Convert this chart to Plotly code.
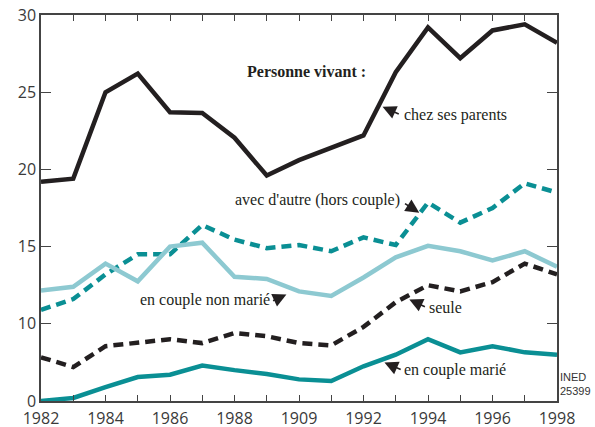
import plotly.graph_objects as go

years = list(range(1982, 1999))
parents = [19.2, 19.4, 25.0, 26.2, 23.7, 23.65, 22.05, 19.6, 20.6, 21.4, 22.2,
           26.3, 29.2, 27.2, 29.0, 29.4, 28.2]
autres = [10.9, 11.6, 13.2, 14.5, 14.5, 16.4, 15.45, 14.9, 15.1, 14.7, 15.6,
          15.1, 17.85, 16.55, 17.5, 19.1, 18.5]
non_marie = [12.15, 12.4, 13.9, 12.75, 15.0, 15.25, 13.05, 12.9, 12.1, 11.8, 13.0,
             14.3, 15.05, 14.7, 14.1, 14.7, 13.7]
seule = [7.83, 7.2, 8.55, 8.8, 9.0, 8.75, 9.4, 9.2, 8.75, 8.6, 9.8,
         11.4, 12.5, 12.1, 12.7, 13.9, 13.2]
marie = [5.0, 5.2, 5.9, 6.55, 6.7, 7.3, 7.0, 6.75, 6.4, 6.3, 7.25,
         8.0, 9.0, 8.15, 8.55, 8.15, 8.0]

x_ticktext = ['1982', '', '1984', '', '1986', '', '1988', '', '1909', '',
              '1992', '', '1994', '', '1996', '', '1998']
y_tickvals = [5, 10, 15, 20, 25, 30]
y_ticktext = ['0', '10', '15', '20', '25', '30']

BLACK = '#231f20'
TEAL = '#0a8f94'
LIGHT = '#8dc9d1'
SERIF = 'Liberation Serif, DejaVu Serif, Times New Roman, serif'

fig = go.Figure()
series = [
    (parents, BLACK, 'solid'),
    (autres, TEAL, 'dash'),
    (non_marie, LIGHT, 'solid'),
    (seule, BLACK, 'dash'),
    (marie, TEAL, 'solid'),
]
for vals, color, dash in series:
    fig.add_trace(go.Scatter(
        x=years, y=vals, mode='lines',
        line=dict(color=color, width=4.5, dash='10px,6px' if dash == 'dash' else 'solid'),
        showlegend=False, hoverinfo='skip', cliponaxis=False,
    ))

serif = dict(family=SERIF, size=16, color=BLACK)

# (label, tip x, tip y, tail x, tail y, text x, text y, anchor)
notes = [
    ('chez ses parents', 1992.59, 24.05, 1993.14, 23.54, 1993.2, 23.54, 'left'),
    ("avec d'autre (hors couple)", 1993.73, 17.2, 1993.24, 17.85, 1993.2, 18.04, 'right'),
    ('en couple non marié', 1989.61, 11.9, 1989.15, 11.45, 1989.15, 11.51, 'right'),
    ('seule', 1993.42, 11.58, 1993.95, 11.06, 1993.98, 11.06, 'left'),
    ('en couple marié', 1992.65, 7.5, 1993.2, 6.99, 1993.2, 6.99, 'left'),
]
for label, tx, ty, ax, ay, lx, ly, anchor in notes:
    fig.add_annotation(
        x=tx, y=ty, ax=ax, ay=ay, xref='x', yref='y', axref='x', ayref='y',
        text='', showarrow=True, arrowhead=2, arrowsize=1.7, arrowwidth=1.6,
        arrowcolor=BLACK,
    )
    fig.add_annotation(
        x=lx, y=ly, xref='x', yref='y', text=label, showarrow=False,
        xanchor=anchor, yanchor='middle', font=serif,
    )

fig.add_annotation(
    x=1990.23, y=26.32, xref='x', yref='y', text='<b>Personne vivant :</b>',
    showarrow=False, font=dict(family=SERIF, size=16, color=BLACK),
)
fig.add_annotation(
    x=1, y=0, xref='paper', yref='paper', xanchor='left', yanchor='bottom',
    xshift=1, yshift=2, text='INED<br>25399', showarrow=False, align='left',
    font=dict(family='Liberation Sans Narrow, Liberation Sans', size=11, color='#333'),
)

axis_font = dict(family='Open Sans', size=16, color='#3a3a3a')
fig.update_layout(
    width=595, height=427,
    margin=dict(l=41, r=38, t=15, b=26, autoexpand=False),
    paper_bgcolor='white', plot_bgcolor='white',
    xaxis=dict(
        range=[1982, 1998], tickvals=years, ticktext=x_ticktext,
        ticks='inside', ticklen=6, tickwidth=1.2, tickcolor='#444',
        showline=True, linecolor='#444', linewidth=1.5, mirror='ticks',
        showgrid=False, zeroline=False, tickfont=axis_font, automargin=False,
        ticklabelstandoff=2,
    ),
    yaxis=dict(
        range=[5, 30], tickvals=y_tickvals, ticktext=y_ticktext,
        ticks='inside', ticklen=10, tickwidth=1.2, tickcolor='#444',
        showline=True, linecolor='#444', linewidth=1.5, mirror='ticks',
        showgrid=False, zeroline=False, tickfont=axis_font, automargin=False,
    ),
)

# the page body has a default 8px margin; drop it so the figure fills the window
fig.write_html('out.html', config={'displayModeBar': False},
               post_script="document.body.style.margin='0';")
